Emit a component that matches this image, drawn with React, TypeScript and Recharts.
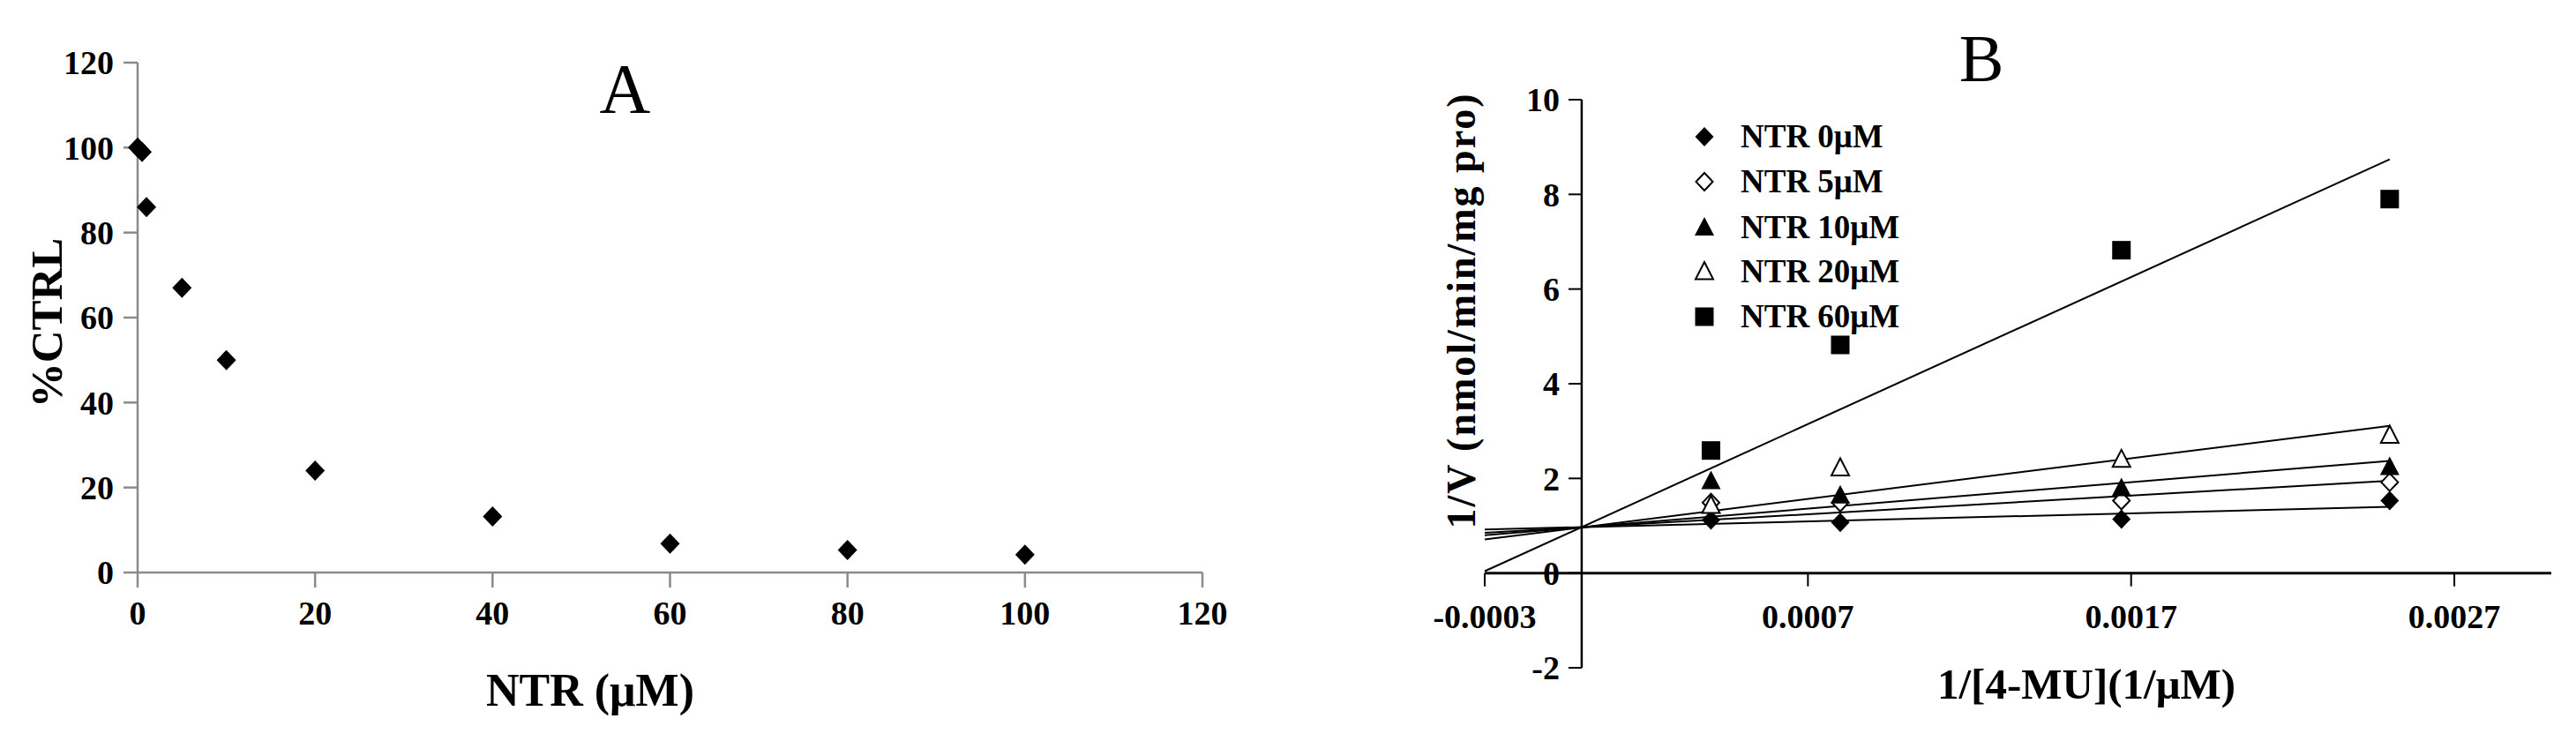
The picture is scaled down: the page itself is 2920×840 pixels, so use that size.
import React from 'react';
import { ScatterChart, Scatter, XAxis, YAxis, ReferenceLine } from 'recharts';

const FONT = '"Liberation Serif", "Times New Roman", Times, serif';

// ---------- Panel A data ----------
const concA = [0, 0.5, 1, 5, 10, 20, 40, 60, 80, 100];
const pctCtrl = [100, 99, 86, 67, 50, 24, 13.2, 6.8, 5.3, 4.2];
const ticksA = [0, 20, 40, 60, 80, 100, 120];

// ---------- Panel B data ----------
const invSubstrate = [0.0004, 0.0008, 0.00167, 0.0025];
const seriesNames = ['NTR 0μM', 'NTR 5μM', 'NTR 10μM', 'NTR 20μM', 'NTR 60μM'];
const ntr0 = [1.12, 1.07, 1.14, 1.53];
const ntr5 = [1.49, 1.49, 1.53, 1.92];
const ntr10 = [1.94, 1.64, 1.79, 2.24];
const ntr20 = [1.43, 2.22, 2.4, 2.91];
const ntr60 = [2.59, 4.82, 6.82, 7.9];
const fitX = [-0.0003, 0.0025];
const fit0 = [0.92, 1.4];
const fit5 = [0.85, 1.95];
const fit10 = [0.8, 2.37];
const fit20 = [0.71, 3.11];
const fit60 = [0.04, 8.74];
const xTicksB = [-0.0003, 0.0007, 0.0017, 0.0027];
const xTickLabelsB = ['-0.0003', '0.0007', '0.0017', '0.0027'];
const yTicksB = [-2, 0, 2, 4, 6, 8, 10];

type Kind = 'diamond' | 'diamondOpen' | 'triangle' | 'triangleOpen' | 'square';
const kinds: Kind[] = ['diamond', 'diamondOpen', 'triangle', 'triangleOpen', 'square'];

function Marker({ kind, cx, cy }: { kind: Kind; cx: number; cy: number }) {
  switch (kind) {
    case 'diamond':
      return <polygon points={`${cx},${cy - 11} ${cx + 10.5},${cy} ${cx},${cy + 11} ${cx - 10.5},${cy}`} fill="#000" />;
    case 'diamondOpen':
      return (
        <polygon
          points={`${cx},${cy - 10} ${cx + 9.5},${cy} ${cx},${cy + 10} ${cx - 9.5},${cy}`}
          fill="#fff"
          stroke="#000"
          strokeWidth={2}
        />
      );
    case 'triangle':
      return <polygon points={`${cx},${cy - 12} ${cx + 11},${cy + 9} ${cx - 11},${cy + 9}`} fill="#000" />;
    case 'triangleOpen':
      return (
        <polygon
          points={`${cx},${cy - 11} ${cx + 10},${cy + 8.5} ${cx - 10},${cy + 8.5}`}
          fill="#fff"
          stroke="#000"
          strokeWidth={2}
        />
      );
    default:
      return <rect x={cx - 10.5} y={cy - 10.5} width={21} height={21} fill="#000" />;
  }
}

const toPts = (xs: number[], ys: number[]) => xs.map((x, i) => ({ x, y: ys[i] }));

const tickStyle = { fill: '#000', fontSize: 38, fontWeight: 700, fontFamily: FONT };
const AXIS_GRAY = '#8a8a8a';

function ChartA() {
  const data = toPts(concA, pctCtrl);
  return (
    <ScatterChart width={1400} height={840} margin={{ top: 71, right: 37, bottom: 131, left: 0 }}>
      <XAxis
        type="number"
        dataKey="x"
        scale="linear"
        domain={[0, 120]}
        ticks={ticksA}
        height={60}
        tickSize={17}
        tickMargin={15}
        axisLine={{ stroke: AXIS_GRAY, strokeWidth: 2.5 }}
        tickLine={{ stroke: AXIS_GRAY, strokeWidth: 2.5 }}
        tick={tickStyle}
      />
      <YAxis
        type="number"
        dataKey="y"
        scale="linear"
        domain={[0, 120]}
        ticks={ticksA}
        width={156}
        tickSize={16}
        tickMargin={11}
        axisLine={{ stroke: AXIS_GRAY, strokeWidth: 2.5 }}
        tickLine={{ stroke: AXIS_GRAY, strokeWidth: 2.5 }}
        tick={tickStyle}
      />
      <Scatter
        data={data}
        isAnimationActive={false}
        shape={(p: any) => (
          <polygon
            points={`${p.cx},${p.cy - 11.5} ${p.cx + 11},${p.cy} ${p.cx},${p.cy + 11.5} ${p.cx - 11},${p.cy}`}
            fill="#000"
          />
        )}
      />
    </ScatterChart>
  );
}

function ChartB() {
  const pointSeries = [ntr0, ntr5, ntr10, ntr20, ntr60];
  const fitSeries = [fit0, fit5, fit10, fit20, fit60];
  const xTickData = xTicksB.map((v, i) => ({ x: v, y: 0, label: xTickLabelsB[i] }));
  const yTickData = yTicksB.map((v) => ({ x: 0, y: v, label: String(v) }));
  return (
    <ScatterChart width={1320} height={840} margin={{ top: 113, right: 28, bottom: 83, left: 83 }}>
      <XAxis type="number" dataKey="x" scale="linear" domain={[-0.0003, 0.003]} hide />
      <YAxis type="number" dataKey="y" scale="linear" domain={[-2, 10]} hide />
      <ReferenceLine y={0} stroke="#000" strokeWidth={3} />
      <ReferenceLine x={0} stroke="#000" strokeWidth={2.5} />
      {fitSeries.map((f, i) => (
        <Scatter
          key={'fit' + i}
          data={toPts(fitX, f)}
          isAnimationActive={false}
          line={{ stroke: '#000', strokeWidth: 2 }}
          shape={() => <g />}
          legendType="none"
        />
      ))}
      {pointSeries.map((s, i) => (
        <Scatter
          key={'pts' + i}
          name={seriesNames[i]}
          data={toPts(invSubstrate, s)}
          isAnimationActive={false}
          shape={(p: any) => <Marker kind={kinds[i]} cx={p.cx} cy={p.cy} />}
        />
      ))}
      <Scatter
        data={xTickData}
        isAnimationActive={false}
        legendType="none"
        shape={(p: any) => (
          <g>
            <line x1={p.cx} y1={p.cy} x2={p.cx} y2={p.cy + 15} stroke="#000" strokeWidth={2} />
            <text x={p.cx} y={p.cy + 62} textAnchor="middle" {...tickStyle}>
              {p.payload.label}
            </text>
          </g>
        )}
      />
      <Scatter
        data={yTickData}
        isAnimationActive={false}
        legendType="none"
        shape={(p: any) => (
          <g>
            <line x1={p.cx - 15} y1={p.cy} x2={p.cx} y2={p.cy} stroke="#000" strokeWidth={2} />
            <text x={p.cx - 25} y={p.cy} dy="0.35em" textAnchor="end" {...tickStyle}>
              {p.payload.label}
            </text>
          </g>
        )}
      />
    </ScatterChart>
  );
}

export default function App() {
  const legendRows = [155, 206, 258, 308, 359];
  return (
    <div style={{ position: 'relative', width: 2920, height: 840, background: '#fff', overflow: 'hidden' }}>
      <style>{`html,body{margin:0;padding:0;background:#fff}`}</style>
      <div style={{ position: 'absolute', left: 0, top: 0 }}>
        <ChartA />
      </div>
      <div style={{ position: 'absolute', left: 1600, top: 0 }}>
        <ChartB />
      </div>
      <svg
        width={2920}
        height={840}
        style={{ position: 'absolute', left: 0, top: 0, pointerEvents: 'none' }}
        fontFamily={FONT}
      >
        <text x={708.5} y={128} fontSize={80} textAnchor="middle" fill="#000">A</text>
        <text x={2246} y={92} fontSize={76} textAnchor="middle" fill="#000">B</text>
        <text x={669} y={800} fontSize={52} fontWeight={700} textAnchor="middle" fill="#000">NTR (μM)</text>
        <text
          x={70}
          y={366}
          fontSize={51}
          fontWeight={700}
          textAnchor="middle"
          fill="#000"
          transform="rotate(-90 70 366)"
        >
          %CTRL
        </text>
        <text
          x={1672}
          y={352}
          fontSize={46}
          fontWeight={700}
          letterSpacing={2}
          textAnchor="middle"
          fill="#000"
          transform="rotate(-90 1672 352)"
        >
          1/V (nmol/min/mg pro)
        </text>
        <text x={2365} y={792} fontSize={49} fontWeight={700} textAnchor="middle" fill="#000">
          1/[4-MU](1/μM)
        </text>
        {seriesNames.map((n, i) => (
          <g key={n}>
            <Marker kind={kinds[i]} cx={1932} cy={legendRows[i]} />
            <text x={1973} y={legendRows[i] + 12} fontSize={37} fontWeight={700} fill="#000">
              {n}
            </text>
          </g>
        ))}
      </svg>
    </div>
  );
}
